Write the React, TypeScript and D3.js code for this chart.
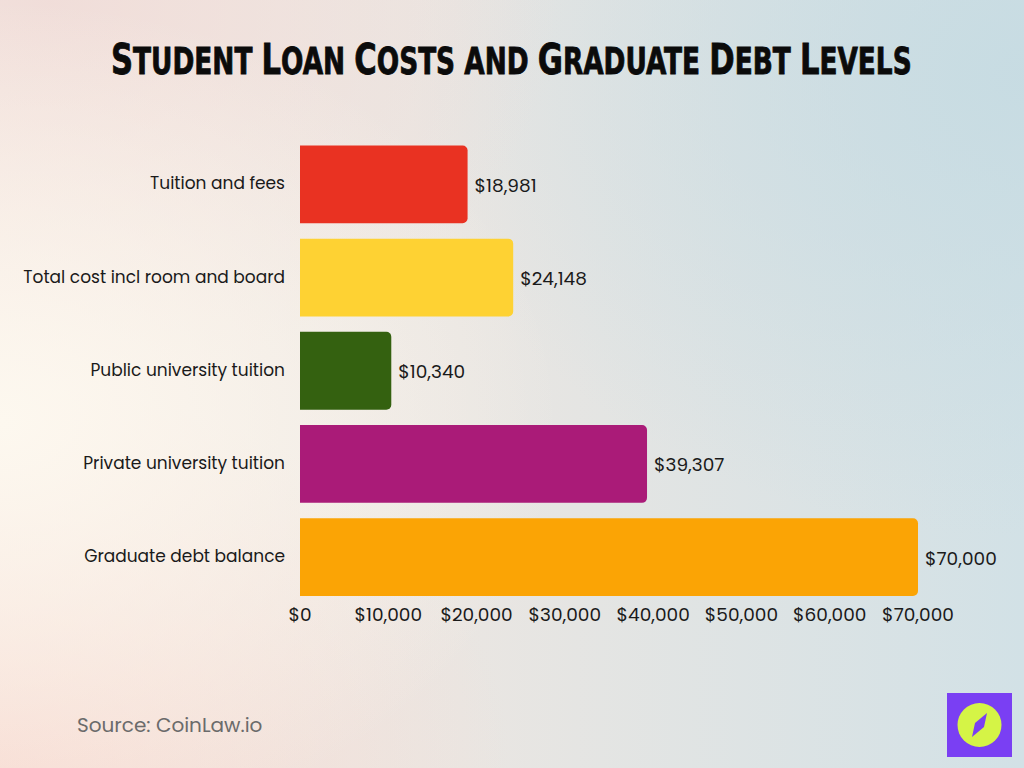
import React, { useLayoutEffect, useRef, useState } from "react";
import * as d3 from "d3";

const categories = [
  "Tuition and fees",
  "Total cost incl room and board",
  "Public university tuition",
  "Private university tuition",
  "Graduate debt balance",
];
const values = [18981, 24148, 10340, 39307, 70000];
const barColors = ["#e93222", "#fed233", "#346110", "#aa1b78", "#fba405"];
const tickValues = [0, 10000, 20000, 30000, 40000, 50000, 60000, 70000];
const titleText = "Student Loan Costs and Graduate Debt Levels";

const W = 1024;
const H = 768;

function barPath(x0: number, y: number, w: number, h: number, r: number) {
  const p = d3.path();
  p.moveTo(x0, y);
  p.lineTo(x0 + w - r, y);
  p.arcTo(x0 + w, y, x0 + w, y + r, r);
  p.lineTo(x0 + w, y + h - r);
  p.arcTo(x0 + w, y + h, x0 + w - r, y + h, r);
  p.lineTo(x0, y + h);
  p.closePath();
  return p.toString();
}

export default function App() {
  const x = d3.scaleLinear().domain([0, 70000]).range([300, 918]);
  const y = d3
    .scaleBand<string>()
    .domain(categories)
    .range([138, 603.5])
    .paddingInner(0.165)
    .paddingOuter(0.08);
  const fmt = d3.format(",");
  const font = "Poppins, Lato, 'Open Sans', sans-serif";

  const titleRef = useRef<SVGTextElement>(null);
  const [sx, setSx] = useState(1);
  useLayoutEffect(() => {
    if (titleRef.current) {
      const w = titleRef.current.getBBox().width;
      if (w > 0) setSx(801 / w);
    }
  }, []);

  const pieces: { t: string; big: boolean }[] = [];
  for (const ch of titleText) {
    const big = ch !== " " && ch === ch.toUpperCase();
    const last = pieces[pieces.length - 1];
    if (last && last.big === big) last.t += ch.toUpperCase();
    else pieces.push({ t: ch.toUpperCase(), big });
  }

  return (
    <svg
      width={W}
      height={H}
      style={{ position: "absolute", left: 0, top: 0 }}
      xmlns="http://www.w3.org/2000/svg"
    >
      <defs>
        <linearGradient id="bg" x1="0" y1="0" x2="1" y2="0">
          <stop offset="0" stopColor="#f6ebe4" />
          <stop offset="0.45" stopColor="#eae6e2" />
          <stop offset="1" stopColor="#d2e1e6" />
        </linearGradient>
        <radialGradient id="warm" cx="0" cy="0.55" r="0.55">
          <stop offset="0" stopColor="#fdf8ef" stopOpacity="1" />
          <stop offset="1" stopColor="#fdf8ef" stopOpacity="0" />
        </radialGradient>
        <radialGradient id="pinkTL" cx="0.05" cy="0" r="0.5">
          <stop offset="0" stopColor="#f0dcd8" stopOpacity="0.9" />
          <stop offset="1" stopColor="#f0dcd8" stopOpacity="0" />
        </radialGradient>
        <radialGradient id="pinkBL" cx="0" cy="1" r="0.5">
          <stop offset="0" stopColor="#f7d9d0" stopOpacity="0.9" />
          <stop offset="1" stopColor="#f7d9d0" stopOpacity="0" />
        </radialGradient>
        <radialGradient id="blueTR" cx="1" cy="0.1" r="0.6">
          <stop offset="0" stopColor="#c6dbe2" stopOpacity="0.9" />
          <stop offset="1" stopColor="#c6dbe2" stopOpacity="0" />
        </radialGradient>
      </defs>
      <rect width={W} height={H} fill="url(#bg)" />
      <rect width={W} height={H} fill="url(#blueTR)" />
      <rect width={W} height={H} fill="url(#pinkTL)" />
      <rect width={W} height={H} fill="url(#pinkBL)" />
      <rect width={W} height={H} fill="url(#warm)" />

      <g transform={`translate(111,73.5) scale(${sx},1)`}>
        <text
          ref={titleRef}
          x={0}
          y={0}
          fontFamily="'Liberation Sans Narrow', 'DejaVu Sans Condensed', 'Arial Narrow', sans-serif"
          fontWeight="bold"
          style={{ fontStretch: "condensed" }}
          fill="#0b0b0b"
          stroke="#0b0b0b"
          strokeWidth={0.8}
        >
          {pieces.map((p, i) => (
            <tspan key={i} fontSize={p.big ? 43 : 37}>
              {p.t}
            </tspan>
          ))}
        </text>
      </g>

      {categories.map((c, i) => {
        const yb = y(c)!;
        const h = y.bandwidth();
        const x0 = x(0);
        const w = x(values[i]) - x0;
        return (
          <g key={c}>
            <path d={barPath(x0, yb, w, h, 5)} fill={barColors[i]} />
            <text
              x={285}
              y={yb + h / 2}
              dy="0.3em"
              textAnchor="end"
              fontFamily={font}
              fontSize={17}
              fill="#1a1a1a"
            >
              {c}
            </text>
            <text
              x={x(values[i]) + 7}
              y={yb + h / 2 + 1}
              dy="0.35em"
              fontFamily={font}
              fontSize={18.5}
              fill="#1a1a1a"
            >
              ${fmt(values[i])}
            </text>
          </g>
        );
      })}

      {tickValues.map((t) => (
        <text
          key={t}
          x={x(t)}
          y={620.5}
          textAnchor="middle"
          fontFamily={font}
          fontSize={18.5}
          fill="#1a1a1a"
        >
          ${fmt(t)}
        </text>
      ))}

      <text x={77} y={732} fontFamily={font} fontSize={20} fill="#6b6b6b">
        Source: CoinLaw.io
      </text>

      <g>
        <rect x={947} y={693} width={65} height={64} fill="#7a3ff3" />
        <circle cx={979.5} cy={725} r={22} fill="#d5f446" />
        <path d="M 987 713 L 984 727 L 972 737 L 975 723 Z" fill="#7a3ff3" />
      </g>
    </svg>
  );
}
